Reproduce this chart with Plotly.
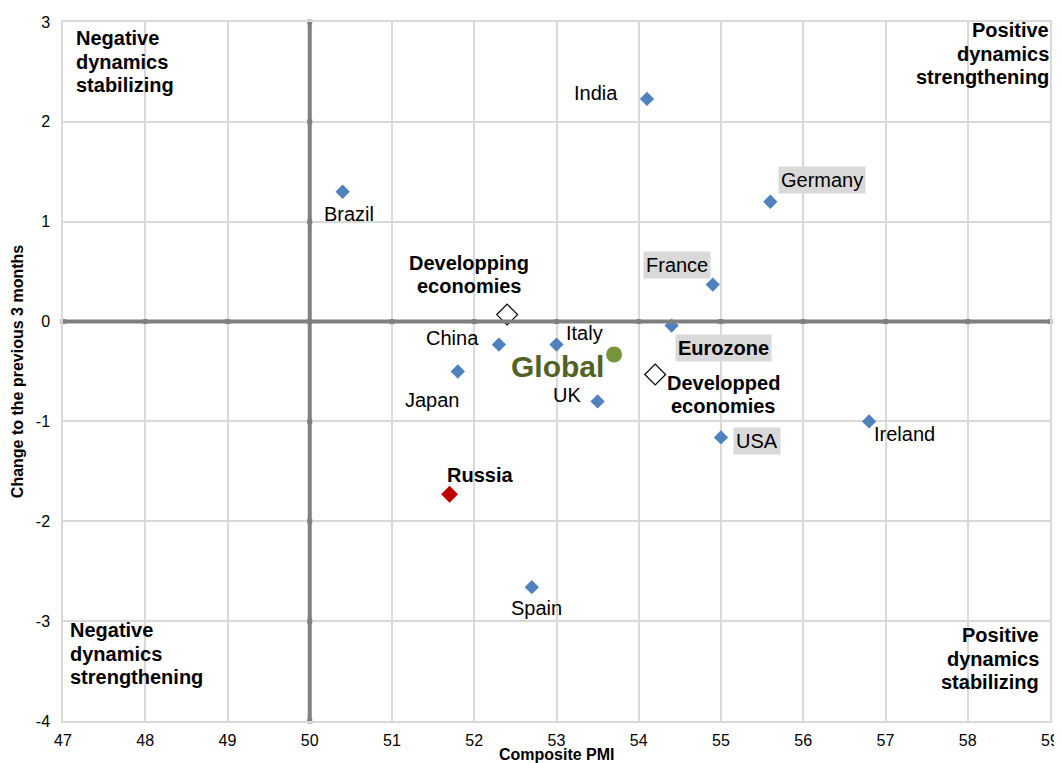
import plotly.graph_objects as go

# ---- data ----
countries = ["India", "Brazil", "Germany", "France", "Eurozone", "China", "Italy",
             "Japan", "UK", "USA", "Ireland", "Spain"]
country_pmi = [54.1, 50.4, 55.6, 54.9, 54.4, 52.3, 53.0, 51.8, 53.5, 55.0, 56.8, 52.7]
country_chg = [2.23, 1.30, 1.20, 0.37, -0.04, -0.23, -0.23, -0.50, -0.80, -1.16, -1.00, -2.66]

russia_pmi = [51.7]
russia_chg = [-1.73]

groups = ["Developping economies", "Developped economies"]
group_pmi = [52.4, 54.2]
group_chg = [0.07, -0.53]

global_pmi = [53.7]
global_chg = [-0.33]

x_ticks = list(range(47, 60))
y_ticks = list(range(-4, 4))
y_ticktext = [str(v) for v in y_ticks]  # plain hyphen minus like the original

x_title = "Composite PMI"
y_title = "Change to the previous 3 months"

quadrants = ["Negative dynamics stabilizing", "Positive dynamics strengthening",
             "Negative dynamics strengthening", "Positive dynamics stabilizing"]

# ---- style / layout helpers ----
FONT = "Liberation Sans, Arial, sans-serif"
BLUE = "#4f81bd"
GRID = "#d9d9d9"
AXIS = "#808080"
BOX = "#d9d9d9"
LBL = 20
LINE_H = 23.5
PAGE_OFFSET = 8  # default body margin of the html page

# label offsets in pixels (xshift, yshift) and styling per label
label_style = {
    "India": (-51, 6, False, False),
    "Brazil": (6, -22, False, False),
    "Germany": (52, 22, True, False),
    "France": (-36, 20, True, False),
    "Eurozone": (52, -22, True, True),
    "China": (-46, 7, False, False),
    "Italy": (28, 12, False, False),
    "Japan": (-25, -28, False, False),
    "UK": (-31, 6, False, False),
    "USA": (36, -4, True, False),
    "Ireland": (35, -13, False, False),
    "Spain": (5, -21, False, False),
}

fig = go.Figure()

# thick central axes
fig.add_shape(type="line", x0=50, x1=50, y0=y_ticks[0], y1=y_ticks[-1],
              line=dict(color=AXIS, width=4), layer="above")
fig.add_shape(type="line", x0=x_ticks[0], x1=x_ticks[-1], y0=0, y1=0,
              line=dict(color=AXIS, width=4), layer="above")

# small tick marks on the central axes
fig.add_trace(go.Scatter(x=x_ticks, y=[0] * len(x_ticks), mode="markers",
                         marker=dict(symbol="square", size=5, color=AXIS),
                         hoverinfo="skip", showlegend=False, cliponaxis=False))
fig.add_trace(go.Scatter(x=[50] * len(y_ticks), y=y_ticks, mode="markers",
                         marker=dict(symbol="square", size=5, color=AXIS),
                         hoverinfo="skip", showlegend=False, cliponaxis=False))

fig.add_trace(go.Scatter(x=country_pmi, y=country_chg, mode="markers",
                         marker=dict(symbol="diamond", size=11, color=BLUE),
                         showlegend=False, cliponaxis=False))
fig.add_trace(go.Scatter(x=russia_pmi, y=russia_chg, mode="markers",
                         marker=dict(symbol="diamond", size=13, color="#c00000"),
                         showlegend=False))
fig.add_trace(go.Scatter(x=group_pmi, y=group_chg, mode="markers",
                         marker=dict(symbol="diamond", size=16, color="white",
                                     line=dict(color="black", width=1.2)),
                         showlegend=False))
fig.add_trace(go.Scatter(x=global_pmi, y=global_chg, mode="markers",
                         marker=dict(symbol="circle", size=16, color="#77933c"),
                         showlegend=False))

ann = []
for name, px, py in zip(countries, country_pmi, country_chg):
    xs, ys, boxed, bold = label_style[name]
    txt = f"<b>{name}</b>" if bold else name
    ann.append(dict(x=px, y=py, text=txt, showarrow=False, xshift=xs, yshift=ys,
                    font=dict(family=FONT, size=LBL, color="black"),
                    bgcolor=BOX if boxed else None, borderpad=2 if boxed else 0))

ann.append(dict(x=russia_pmi[0], y=russia_chg[0], text="<b>Russia</b>", showarrow=False,
                xshift=30, yshift=19, font=dict(family=FONT, size=LBL, color="black")))
ann.append(dict(x=global_pmi[0], y=global_chg[0], text="<b>Global</b>", showarrow=False,
                xshift=-57, yshift=-12, font=dict(family=FONT, size=30, color="#4f6228")))

# multi-line bold labels with tight line spacing (one annotation per line)
def add_lines(text, base, xanchor, xshift, yshift0, direction=-1):
    for i, line in enumerate(text.split(" ")):
        d = dict(base)
        d.update(text=f"<b>{line}</b>", showarrow=False, xanchor=xanchor, yanchor="middle",
                 xshift=xshift, yshift=yshift0 + direction * i * LINE_H,
                 font=dict(family=FONT, size=LBL, color="black"))
        ann.append(d)

add_lines(groups[0], dict(x=group_pmi[0], y=group_chg[0]), "center", -38, 52)
add_lines(groups[1], dict(x=group_pmi[1], y=group_chg[1]), "center", 68, -8)

add_lines(quadrants[0], dict(xref="x domain", yref="y domain", x=0, y=1), "left", 11, -16)
add_lines(quadrants[1], dict(xref="x domain", yref="y domain", x=1, y=1), "right", 1, -8)
add_lines(quadrants[2], dict(xref="x domain", yref="y domain", x=0, y=0), "left", 5, 91)
add_lines(quadrants[3], dict(xref="x domain", yref="y domain", x=1, y=0), "right", -9, 86)

# x axis title placed just below the tick labels
ann.append(dict(xref="x domain", yref="y domain", x=0.5, y=0, xanchor="center", yanchor="middle",
                yshift=-33, showarrow=False, text=f"<b>{x_title}</b>",
                font=dict(family=FONT, size=16, color="black")))

fig.update_layout(
    width=1062 - PAGE_OFFSET, height=763 - PAGE_OFFSET,
    margin=dict(l=63 - PAGE_OFFSET, r=12, t=22 - PAGE_OFFSET, b=42),
    paper_bgcolor="white", plot_bgcolor="white",
    font=dict(family=FONT, size=16, color="black"),
    annotations=ann,
    xaxis=dict(range=[x_ticks[0], x_ticks[-1]], tickvals=x_ticks, showgrid=True, gridcolor=GRID,
               gridwidth=1.5, zeroline=False, showline=True, linecolor=GRID, linewidth=1.5,
               mirror=True, ticks="", tickfont=dict(size=16), automargin=False,
               ticklabelstandoff=4),
    yaxis=dict(range=[y_ticks[0], y_ticks[-1]], tickvals=y_ticks, ticktext=y_ticktext,
               showgrid=True, gridcolor=GRID,
               gridwidth=1.5, zeroline=False, showline=True, linecolor=GRID, linewidth=1.5,
               mirror=True, ticks="", tickfont=dict(size=16), automargin=False,
               ticklabelstandoff=8,
               title=dict(text=f"<b>{y_title}</b>", font=dict(size=16), standoff=8)),
)

fig.write_html("out.html")
